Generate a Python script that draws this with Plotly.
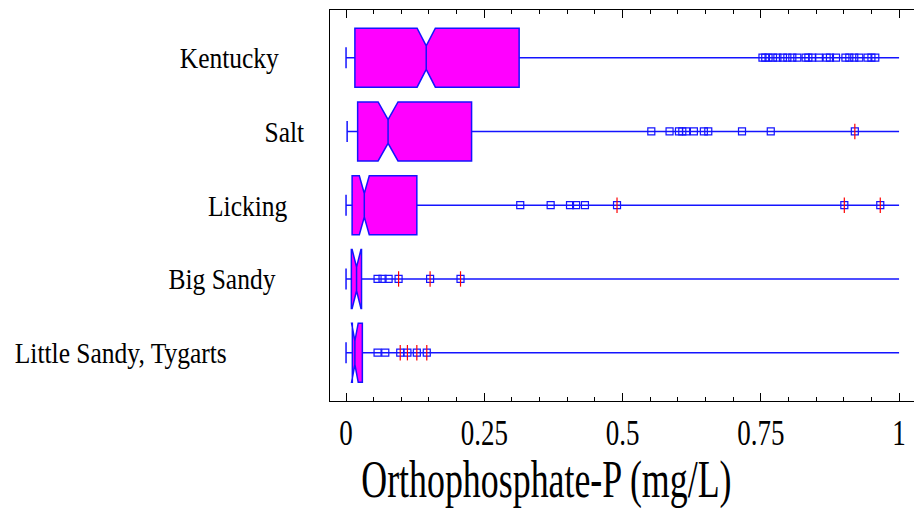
import json
import plotly.graph_objects as go

# ---------------- data ----------------
categories = ["Little Sandy, Tygarts", "Big Sandy", "Licking", "Salt", "Kentucky"]
q1 = [0.0114, 0.0096, 0.011, 0.021, 0.016]
median = [0.0160, 0.0190, 0.033, 0.076, 0.145]
q3 = [0.0295, 0.0280, 0.128, 0.227, 0.313]
lower_fence = [0.0, 0.0, 0.0, 0.002, 0.0]
upper_fence = [1.0, 1.0, 1.0, 1.0, 1.0]
notch_span = [0.006, 0.008, 0.009, 0.018, 0.0165]

# outside points (blue squares)
outside_points = [
    [0.057, 0.071, 0.098, 0.111, 0.128, 0.146],
    [0.057, 0.066, 0.077, 0.095, 0.152, 0.207],
    [0.315, 0.370, 0.405, 0.416, 0.432, 0.490, 0.901, 0.966],
    [0.552, 0.585, 0.602, 0.608, 0.615, 0.629, 0.647, 0.655, 0.716, 0.768, 0.920],
    [0.753, 0.758, 0.764, 0.772, 0.780, 0.790, 0.798, 0.807, 0.816, 0.831,
     0.836, 0.843, 0.855, 0.869, 0.875, 0.886, 0.903, 0.910, 0.919, 0.928,
     0.943, 0.950, 0.957],
]
# far outside points (red plus marks)
far_points = [
    [0.098, 0.111, 0.128, 0.146],
    [0.095, 0.152, 0.207],
    [0.490, 0.901, 0.966],
    [0.920],
    [],
]

x_tickvals = [0, 0.25, 0.5, 0.75, 1]
x_ticktext = ["0", "0.25", "0.5", "0.75", "1"]
x_title = "Orthophosphate-P (mg/L)"

# ---------------- style ----------------
FONT = "Liberation Serif, Times New Roman, serif"
BLUE = "#1414ff"
MAGENTA = "#ff00ff"
label_center_px = [120.5, 222, 247.5, 284, 229]  # horizontal centres of the category labels
PLOT_L, PLOT_W = 330, 584
TICK_SIZE, LABEL_SIZE, TITLE_SIZE = 36, 30, 52
# horizontal condensing of the serif text, keyed by font size
condense = {TICK_SIZE: 0.75, LABEL_SIZE: 0.85, TITLE_SIZE: 0.69}

positions = list(range(len(categories)))

fig = go.Figure()

fig.add_trace(go.Box(
    y=positions,
    q1=q1, median=median, q3=q3,
    lowerfence=lower_fence, upperfence=upper_fence,
    notchspan=notch_span, notched=True, notchwidth=0.3,
    orientation="h", width=0.8, whiskerwidth=0,
    fillcolor=MAGENTA, line=dict(color=BLUE, width=1.5),
    boxpoints=False, showlegend=False, hoverinfo="skip",
))

# lower whisker caps
fig.add_trace(go.Scatter(
    x=lower_fence, y=positions, mode="markers",
    marker=dict(symbol="line-ns", size=15, line=dict(color=BLUE, width=1.5)),
    showlegend=False, hoverinfo="skip",
))

ox, oy, fx, fy = [], [], [], []
for i, pts in enumerate(outside_points):
    ox += pts
    oy += [positions[i]] * len(pts)
for i, pts in enumerate(far_points):
    fx += pts
    fy += [positions[i]] * len(pts)

fig.add_trace(go.Scatter(
    x=ox, y=oy, mode="markers",
    marker=dict(symbol="square-open", size=7, color=BLUE, line=dict(color=BLUE, width=1.2)),
    showlegend=False, hoverinfo="skip",
))
fig.add_trace(go.Scatter(
    x=fx, y=fy, mode="markers",
    marker=dict(symbol="line-ns", size=11, line=dict(color="red", width=1.2)),
    showlegend=False, hoverinfo="skip",
))

for i, cat in enumerate(categories):
    fig.add_annotation(
        x=(label_center_px[i] - PLOT_L) / PLOT_W, xref="paper",
        y=positions[i], yref="y",
        text=cat, showarrow=False, xanchor="center", yanchor="middle",
        font=dict(family=FONT, size=LABEL_SIZE, color="black"),
    )

fig.add_annotation(
    x=(546 - PLOT_L) / PLOT_W, xref="paper", y=-0.202, yref="paper",
    text=x_title, showarrow=False, xanchor="center", yanchor="middle",
    font=dict(family=FONT, size=TITLE_SIZE, color="black"),
)

fig.update_layout(
    width=914, height=513,
    margin=dict(l=PLOT_L, r=0, t=10, b=112),
    plot_bgcolor="white", paper_bgcolor="white",
    xaxis=dict(
        range=[-0.029, 1.027],
        tickvals=x_tickvals, ticktext=x_ticktext,
        ticks="inside", ticklen=8, tickwidth=1, tickcolor="black",
        minor=dict(dtick=0.05, tick0=0, ticks="inside", ticklen=4, tickcolor="black", showgrid=False),
        showline=True, linecolor="black", linewidth=1, mirror="ticks",
        showgrid=False, zeroline=False,
        ticklabelstandoff=0,
        tickfont=dict(family=FONT, size=TICK_SIZE, color="black"),
    ),
    yaxis=dict(
        range=[-0.655, 4.647],
        showline=True, linecolor="black", linewidth=1, mirror=False,
        showticklabels=False, ticks="", showgrid=False, zeroline=False,
    ),
)

post_js = """
document.body.style.margin = '0';
var condense = %s;
var gd = document.getElementById('{plot_id}');
var texts = gd.querySelectorAll('.xtick text, .annotation-text');
texts.forEach(function(el) {
  try {
    var fs = Math.round(parseFloat(el.style.fontSize || window.getComputedStyle(el).fontSize));
    var s = condense[fs];
    if (!s) return;
    var bb = el.getBBox();
    var cx = bb.x + bb.width / 2;
    var tr = el.getAttribute('transform') || '';
    el.setAttribute('transform', tr + ' translate(' + cx + ',0) scale(' + s + ',1) translate(' + (-cx) + ',0)');
  } catch (e) {}
});
""" % json.dumps({str(k): v for k, v in condense.items()})

fig.write_html("out.html", post_script=post_js, config={"displayModeBar": False})
